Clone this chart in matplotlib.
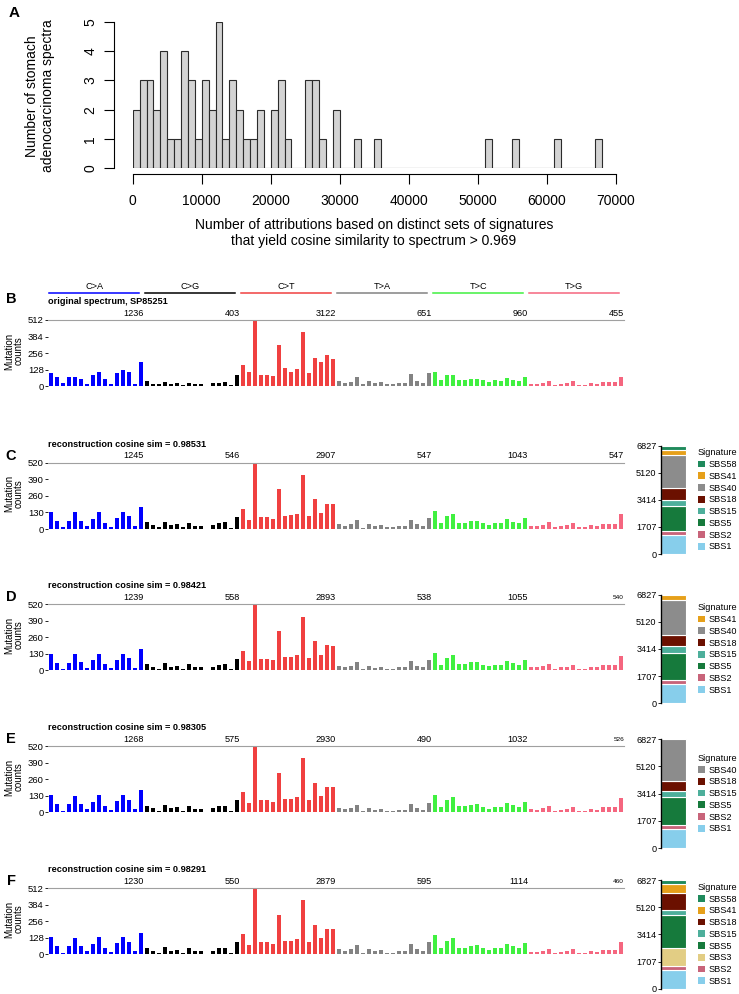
import matplotlib.pyplot as plt
from matplotlib.patches import Patch
from matplotlib.transforms import blended_transform_factory

plt.rcParams['font.family'] = ['Liberation Sans', 'DejaVu Sans']

W, H = 739, 994

# ---- panel A: histogram, counts per 1000-wide bin starting at 0 ----
hist_counts = [2, 3, 3, 2, 4, 1, 1, 4, 3, 1, 3, 2, 5, 1, 3, 2, 1, 1, 2, 0,
               2, 3, 1, 0, 0, 3, 3, 1, 0, 2, 0, 0, 1, 0, 0, 1, 0, 0, 0, 0,
               0, 0, 0, 0, 0, 0, 0, 0, 0, 0, 0, 1, 0, 0, 0, 1, 0, 0, 0, 0,
               0, 1, 0, 0, 0, 0, 0, 1]
bin_width = 1000
hist_xticks = [0, 10000, 20000, 30000, 40000, 50000, 60000, 70000]

# ---- SBS96 spectra (16 contexts per class) ----
classes = ['C>A', 'C>G', 'C>T', 'T>A', 'T>C', 'T>G']
class_colors = ['#0000ff', '#000000', '#f04040', '#838383', '#40f040', '#f5667f']

spec_B = [100, 70, 30, 70, 75, 60, 22, 88, 110, 55, 22, 105, 128, 108, 18, 191,
          40, 20, 15, 35, 20, 25, 10, 30, 15, 15, 5, 25, 30, 35, 10, 85,
          165, 110, 512, 85, 85, 80, 319, 140, 110, 134, 422, 105, 218, 185, 240, 211,
          40, 25, 35, 70, 15, 40, 25, 35, 20, 20, 30, 25, 95, 40, 30, 105,
          110, 50, 85, 90, 50, 50, 60, 55, 50, 35, 50, 45, 65, 50, 40, 75,
          20, 20, 30, 45, 10, 20, 25, 40, 10, 10, 30, 20, 35, 35, 35, 70]
spec_C = [136, 63, 13, 63, 131, 63, 24, 81, 133, 50, 16, 86, 133, 99, 24, 170,
          52, 31, 13, 55, 31, 37, 13, 50, 24, 24, 3, 29, 47, 52, 10, 94,
          157, 71, 520, 94, 94, 81, 311, 105, 107, 120, 426, 99, 233, 125, 199, 199,
          37, 26, 37, 68, 10, 37, 21, 31, 13, 13, 24, 24, 71, 37, 24, 86,
          141, 47, 99, 120, 50, 50, 63, 65, 47, 31, 47, 47, 76, 57, 47, 86,
          26, 24, 34, 52, 13, 24, 29, 47, 13, 13, 31, 24, 42, 42, 42, 115]
spec_D = [130, 60, 13, 60, 128, 62, 22, 80, 130, 48, 15, 84, 128, 95, 22, 165,
          52, 30, 13, 55, 30, 36, 13, 50, 23, 23, 4, 28, 45, 52, 10, 92,
          155, 70, 520, 93, 93, 80, 310, 104, 106, 118, 420, 97, 230, 123, 197, 190,
          36, 25, 36, 66, 10, 36, 20, 30, 13, 13, 23, 23, 70, 36, 23, 84,
          140, 46, 98, 118, 49, 49, 62, 64, 46, 31, 46, 46, 75, 56, 46, 85,
          25, 23, 33, 50, 13, 23, 28, 46, 13, 13, 30, 23, 41, 41, 41, 112]
spec_E = [138, 64, 13, 64, 132, 64, 24, 82, 135, 51, 16, 87, 135, 100, 24, 172,
          54, 33, 14, 57, 33, 39, 14, 52, 25, 25, 4, 31, 49, 54, 11, 98,
          158, 72, 520, 95, 95, 82, 312, 106, 108, 121, 428, 100, 234, 126, 200, 196,
          33, 23, 33, 60, 9, 33, 19, 28, 12, 12, 21, 21, 63, 33, 21, 76,
          138, 46, 97, 117, 49, 49, 61, 63, 46, 30, 46, 46, 74, 56, 46, 84,
          24, 22, 32, 49, 12, 22, 27, 44, 12, 12, 29, 22, 40, 40, 40, 110]
spec_F = [134, 62, 13, 62, 129, 62, 23, 80, 131, 49, 16, 85, 131, 97, 23, 167,
          51, 30, 13, 54, 30, 36, 13, 49, 24, 24, 3, 29, 46, 51, 10, 93,
          155, 70, 512, 92, 92, 80, 306, 103, 105, 118, 419, 97, 229, 123, 196, 195,
          40, 28, 40, 74, 11, 40, 23, 34, 14, 14, 26, 26, 78, 40, 26, 94,
          150, 50, 105, 127, 53, 53, 67, 69, 50, 33, 50, 50, 81, 61, 50, 91,
          21, 20, 28, 44, 11, 20, 24, 39, 11, 11, 26, 20, 35, 35, 35, 97]

totals_B = [1236, 403, 3122, 651, 960, 455]
totals_C = [1245, 546, 2907, 547, 1043, 547]
totals_D = [1239, 558, 2893, 538, 1055, 540]
totals_E = [1268, 575, 2930, 490, 1032, 526]
totals_F = [1230, 550, 2879, 595, 1114, 460]

ticks_512 = [0, 128, 256, 384, 512]
ticks_520 = [0, 130, 260, 390, 520]

# ---- signature attributions (bottom to top) ----
sig_colors = {'SBS1': '#87ceeb', 'SBS2': '#c8647a', 'SBS3': '#e2cd84',
              'SBS5': '#167a3c', 'SBS15': '#4daf9b', 'SBS18': '#6b1000',
              'SBS40': '#8c8c8c', 'SBS41': '#e6a01a', 'SBS58': '#1f8a5c'}
sigs_C = ['SBS1', 'SBS2', 'SBS5', 'SBS15', 'SBS18', 'SBS40', 'SBS41', 'SBS58']
expo_C = [1218, 230, 1575, 378, 756, 2100, 294, 231]
sigs_D = ['SBS1', 'SBS2', 'SBS5', 'SBS15', 'SBS18', 'SBS40', 'SBS41']
expo_D = [1215, 250, 1717, 398, 733, 2178, 293]
sigs_E = ['SBS1', 'SBS2', 'SBS5', 'SBS15', 'SBS18', 'SBS40']
expo_E = [1215, 250, 1717, 419, 628, 2597]
sigs_F = ['SBS1', 'SBS2', 'SBS3', 'SBS5', 'SBS15', 'SBS18', 'SBS41', 'SBS58']
expo_F = [1173, 272, 1089, 2073, 335, 1089, 524, 272]
expo_ticks = [0, 1707, 3414, 5120, 6827]

fig = plt.figure(figsize=(W / 100, H / 100), dpi=100)


def px_axes(x0, y0, x1, y1):
    return fig.add_axes([x0 / W, 1 - y1 / H, (x1 - x0) / W, (y1 - y0) / H])


def fy(y):
    return 1 - y / H


# ---------------- panel A ----------------
axA = px_axes(132.7, 21.7, 616, 168.3)
axA.bar([i * bin_width for i in range(len(hist_counts))], hist_counts, width=bin_width,
        align='edge', color='#d3d3d3', edgecolor='#2b2b2b', linewidth=0.8)
axA.set_xlim(0, 70000)
axA.set_ylim(0, 5)
for s in ['top', 'right']:
    axA.spines[s].set_visible(False)
axA.spines['left'].set_position(('outward', 13.5))
axA.spines['bottom'].set_position(('outward', 4.3))
axA.spines['left'].set_bounds(0, 5)
axA.spines['bottom'].set_bounds(0, 70000)
axA.set_xticks(hist_xticks)
axA.set_xticklabels([str(t) for t in hist_xticks])
axA.set_yticks(range(6))
axA.tick_params(length=7, width=0.8, labelsize=10, direction='out')
axA.tick_params(axis='x', pad=7)
axA.tick_params(axis='y', pad=5, labelrotation=90)
for lbl in axA.get_yticklabels():
    lbl.set_va('center')
fig.text(40 / W, fy(96), 'Number of stomach\nadenocarcinoma spectra', rotation=90,
         ha='center', va='center', fontsize=10, linespacing=1.1)
fig.text(374 / W, fy(233), 'Number of attributions based on distinct sets of signatures\n'
         'that yield cosine similarity to spectrum > 0.969',
         ha='center', va='center', fontsize=10, linespacing=1.1)
fig.text(14 / W, fy(13), 'A', fontsize=11, fontweight='bold', ha='center', va='center')


# ---------------- spectra ----------------
def spectrum_row(letter, letter_y, title, values, totals, top, ticks, small_last, header=False):
    ax = px_axes(48, top, 624, top + 66.4)
    ymax = ticks[-1]
    colors = [c for c in class_colors for _ in range(16)]
    ax.bar(range(96), values, width=0.52, color=colors, linewidth=0)
    ax.set_xlim(-0.5, 95.5)
    ax.set_ylim(0, ymax)
    ax.axhline(ymax, color='#a0a0a0', lw=0.8, clip_on=False)
    for s in ax.spines.values():
        s.set_visible(False)
    ax.set_xticks([])
    ax.set_yticks(ticks)
    ax.tick_params(axis='y', length=2, width=0.6, pad=1, labelsize=6.8)
    ax.annotate(title, xy=(-0.5, 1), xycoords=('data', 'axes fraction'),
                xytext=(0, 13), textcoords='offset points', fontsize=6.6,
                fontweight='bold', ha='left', va='center')
    for k, tot in enumerate(totals):
        small = small_last and k == 5
        ax.annotate(str(tot), xy=(16 * k + 15.5, 1), xycoords=('data', 'axes fraction'),
                    xytext=(0, 5), textcoords='offset points',
                    fontsize=4.6 if small else 6.6, ha='right', va='center')
    if header:
        tr = blended_transform_factory(ax.transData, ax.transAxes)
        yl = 1 + 27.3 / 66.4
        for k, (name, col) in enumerate(zip(classes, class_colors)):
            ax.plot([16 * k - 0.4, 16 * k + 14.7], [yl, yl], color=col, lw=1.1,
                    transform=tr, clip_on=False)
            ax.text(16 * k + 7.2, yl + 1.5 / 66.4, name, transform=tr, fontsize=6.6,
                    ha='center', va='bottom')
    fig.text(14 / W, fy(top + 31), 'Mutation\ncounts', rotation=90, ha='center',
             va='center', fontsize=7, linespacing=0.95)
    fig.text(11 / W, fy(letter_y), letter, fontsize=10.5, fontweight='bold',
             ha='center', va='center')
    return ax


spectrum_row('B', 299, 'original spectrum, SP85251', spec_B, totals_B, 320, ticks_512, False, header=True)
spectrum_row('C', 456, 'reconstruction cosine sim = 0.98531', spec_C, totals_C, 462.7, ticks_520, False)
spectrum_row('D', 597, 'reconstruction cosine sim = 0.98421', spec_D, totals_D, 604, ticks_520, True)
spectrum_row('E', 739, 'reconstruction cosine sim = 0.98305', spec_E, totals_E, 746, ticks_520, True)
spectrum_row('F', 881, 'reconstruction cosine sim = 0.98291', spec_F, totals_F, 888, ticks_512, True)


# ---------------- attribution bars ----------------
def exposure_bar(sigs, expo, y0, y1):
    ax = px_axes(660.7, y0, 687, y1)
    bottom = 0
    for s, v in zip(sigs, expo):
        ax.bar(0.5, v, bottom=bottom, width=0.94, color=sig_colors[s],
               edgecolor='white', linewidth=0.8)
        bottom += v
    ax.set_xlim(0, 1)
    ax.set_ylim(0, 6827)
    for s in ['top', 'right', 'bottom']:
        ax.spines[s].set_visible(False)
    ax.spines['left'].set_linewidth(1.0)
    ax.set_xticks([])
    ax.set_yticks(expo_ticks)
    ax.tick_params(axis='y', length=2, width=0.6, pad=1, labelsize=6.6)
    handles = [Patch(facecolor=sig_colors[s]) for s in sigs[::-1]]
    ax.legend(handles, sigs[::-1], title='Signature', loc='center left',
              bbox_to_anchor=(698 / W, fy((y0 + y1) / 2)), bbox_transform=fig.transFigure,
              frameon=False, fontsize=6.6, title_fontsize=6.6, handlelength=0.75,
              handleheight=0.75, handletextpad=0.45, labelspacing=0.3, borderpad=0,
              borderaxespad=0, alignment='left')
    return ax


exposure_bar(sigs_C, expo_C, 445.7, 554)
exposure_bar(sigs_D, expo_D, 594.7, 703.3)
exposure_bar(sigs_E, expo_E, 739.3, 848)
exposure_bar(sigs_F, expo_F, 880, 988.7)

fig.savefig('out.png', dpi=100)
